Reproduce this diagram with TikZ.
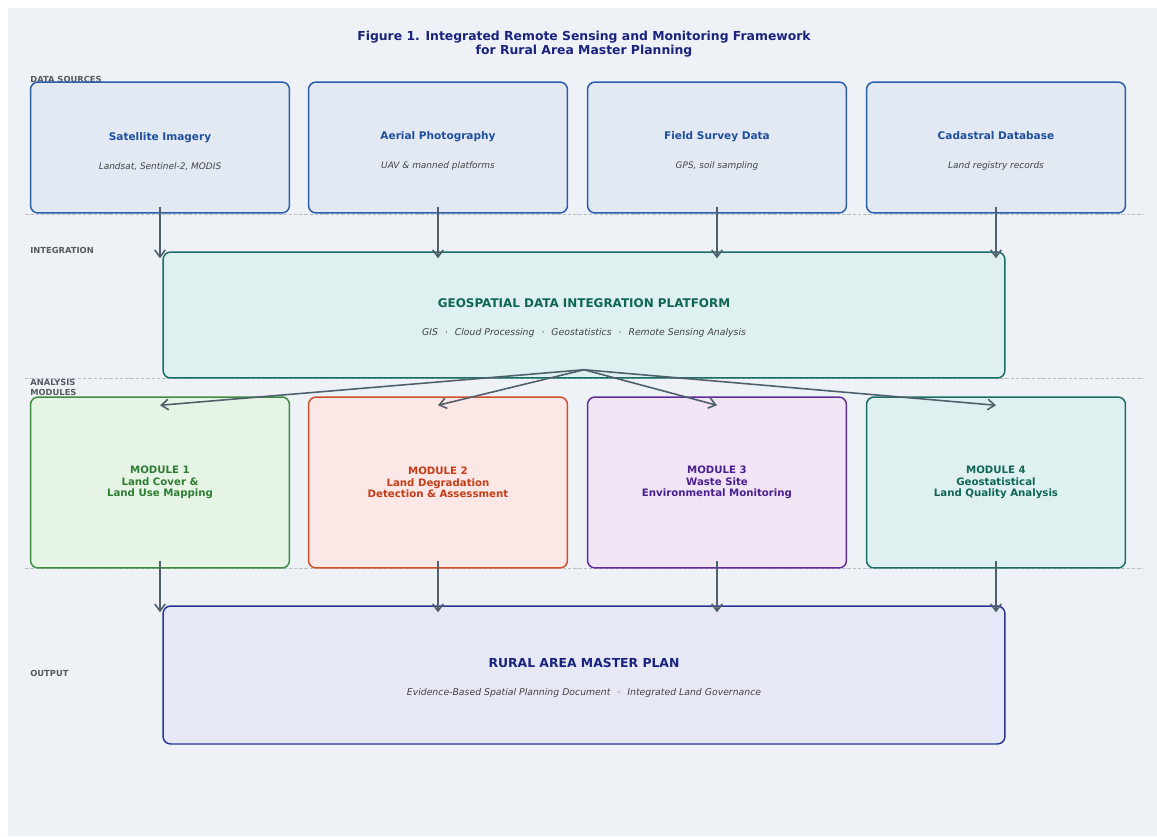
\documentclass[tikz,border=0pt]{standalone}
\usepackage{fontspec}
\setmainfont{DejaVu Sans}
\usetikzlibrary{arrows.meta}

\definecolor{panelbg}{HTML}{EEF2F7}
\definecolor{sepline}{HTML}{B8BEC6}
\definecolor{arrowc}{HTML}{4F5F6B}
\definecolor{labelc}{HTML}{555B61}
\definecolor{titlec}{HTML}{1A237E}
\definecolor{subc}{HTML}{444444}
\definecolor{srcline}{HTML}{2A5CAA}
\definecolor{srcfill}{HTML}{E2E9F3}
\definecolor{srctext}{HTML}{1F4E9C}
\definecolor{intline}{HTML}{1B6E64}
\definecolor{intfill}{HTML}{DFF0F0}
\definecolor{inttext}{HTML}{0E6655}
\definecolor{grnline}{HTML}{3C8D40}
\definecolor{grnfill}{HTML}{E6F4E6}
\definecolor{grntext}{HTML}{2E7D32}
\definecolor{redline}{HTML}{D0502A}
\definecolor{redfill}{HTML}{FBE7E5}
\definecolor{redtext}{HTML}{C63C16}
\definecolor{purline}{HTML}{5E2E9A}
\definecolor{purfill}{HTML}{F1E4F5}
\definecolor{purtext}{HTML}{4A2090}
\definecolor{outline}{HTML}{283593}
\definecolor{outfill}{HTML}{E6E9F5}

% italic grey sub line inside boxes
\newcommand{\subtxt}{\fontsize{5.1}{6}\selectfont\mdseries\itshape\color{subc}}
\newcommand{\widesub}{\fontsize{5.3}{6}\selectfont\mdseries\itshape\color{subc}}
\newcommand{\middot}{\hspace{0.75em}·\hspace{0.75em}}
\newcommand{\topgap}{\rule{0pt}{9pt}}

\begin{document}
\begin{tikzpicture}[x=0.02cm,y=-0.02cm,
    box/.style={draw, line width=0.85pt, rounded corners=0.15cm, align=center},
    srcbox/.style={box, draw=srcline, fill=srcfill, text=srctext, minimum width=5.18cm, minimum height=2.62cm,
        font=\fontsize{6}{6.5}\selectfont\bfseries},
    modbox/.style={box, minimum width=5.18cm, minimum height=3.42cm, font=\fontsize{5.8}{6.5}\selectfont\bfseries},
    widebox/.style={box, minimum width=16.84cm},
    lanelabel/.style={anchor=west, align=left, inner sep=0pt, text=labelc, font=\fontsize{4.75}{5.7}\selectfont\bfseries},
    flow/.style={draw=arrowc, line width=0.9pt, -{Straight Barb[length=4pt,width=6pt]}},
    sep/.style={draw=sepline, line width=0.4pt, dash pattern=on 2pt off 1pt}]

    % Background
    \fill[white] (0,0) rectangle (1157,836);
    \fill[panelbg] (8,8) rectangle (1157,836);

    % Title
    \node[text=titlec, align=center, font=\fontsize{7.05}{7.9}\selectfont\bfseries] (title) at (584,44)
        {Figure 1. Integrated Remote Sensing and Monitoring Framework\\for Rural Area Master Planning};

    % Lane separators
    \draw[sep] (25,214) -- (1143,214);
    \draw[sep] (25,378) -- (1143,378);
    \draw[sep] (25,568) -- (1143,568);

    % Lane labels
    \node[lanelabel] (lsrc) at (30,79) {DATA SOURCES};
    \node[lanelabel] (lint) at (30,250) {INTEGRATION};
    \node[lanelabel] (lmod) at (30,387) {ANALYSIS\\MODULES};
    \node[lanelabel] (lout) at (30,673) {OUTPUT};

    % Data sources
    \node[srcbox] (s1) at (160,147.5) {\topgap Satellite Imagery\\[10pt]{\subtxt Landsat, Sentinel-2, MODIS}};
    \node[srcbox] (s2) at (438,147.5) {\topgap Aerial Photography\\[10pt]{\subtxt UAV \& manned platforms}};
    \node[srcbox] (s3) at (717,147.5) {\topgap Field Survey Data\\[10pt]{\subtxt GPS, soil sampling}};
    \node[srcbox] (s4) at (996,147.5) {\topgap Cadastral Database\\[10pt]{\subtxt Land registry records}};

    % Integration platform
    \node[widebox, draw=intline, fill=intfill, text=inttext, minimum height=2.52cm,
        font=\fontsize{6.8}{7.5}\selectfont\bfseries] (integ) at (584,315)
        {\topgap GEOSPATIAL DATA INTEGRATION PLATFORM\\[8.4pt]{\widesub GIS\middot Cloud Processing\middot Geostatistics\middot Remote Sensing Analysis}};

    % Analysis modules
    \node[modbox, draw=grnline, fill=grnfill, text=grntext] (m1) at (160,482.5) {MODULE 1\\Land Cover \&\\Land Use Mapping};
    \node[modbox, draw=redline, fill=redfill, text=redtext] (m2) at (438,482.5) {MODULE 2\\Land Degradation\\Detection \& Assessment};
    \node[modbox, draw=purline, fill=purfill, text=purtext] (m3) at (717,482.5) {MODULE 3\\Waste Site\\Environmental Monitoring};
    \node[modbox, draw=intline, fill=intfill, text=inttext] (m4) at (996,482.5) {MODULE 4\\Geostatistical\\Land Quality Analysis};

    % Output
    \node[widebox, draw=outline, fill=outfill, text=titlec, minimum height=2.76cm,
        font=\fontsize{7.05}{7.5}\selectfont\bfseries] (out) at (584,675)
        {\topgap RURAL AREA MASTER PLAN\\[8.4pt]{\widesub Evidence-Based Spatial Planning Document\middot Integrated Land Governance}};

    % Sources to platform
    \foreach \s in {s1,s2,s3,s4}
        \draw[flow] ([yshift=0.14cm]\s.south) -- ([yshift=-0.14cm]\s.south |- integ.north);

    % Platform to modules
    \foreach \m in {m1,m2,m3,m4}
        \draw[flow] ([yshift=0.18cm]integ.south) -- ([yshift=-0.18cm]\m.north);

    % Modules to output
    \foreach \m in {m1,m2,m3,m4}
        \draw[flow] ([yshift=0.16cm]\m.south) -- ([yshift=-0.14cm]\m.south |- out.north);
\end{tikzpicture}
\end{document}
